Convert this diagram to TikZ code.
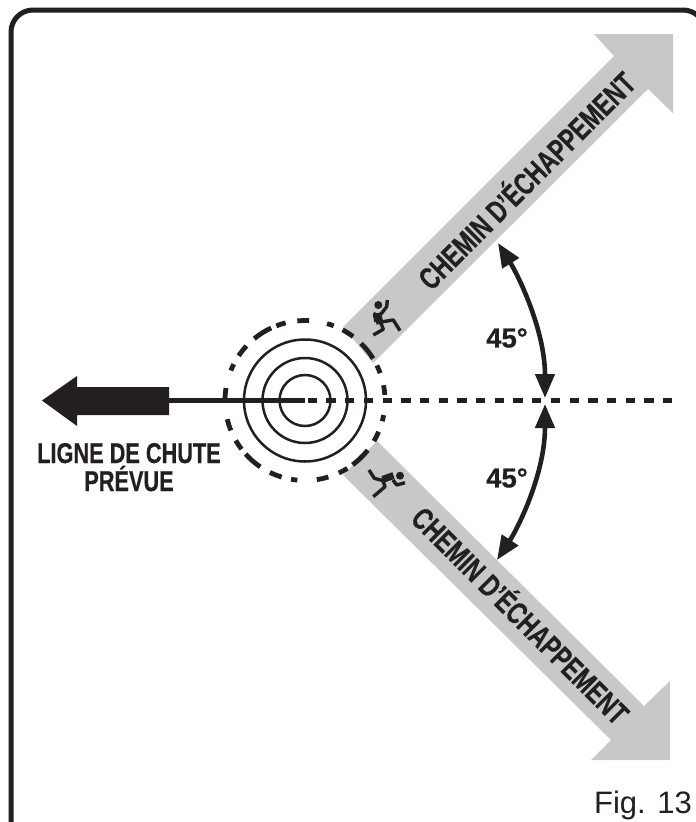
\documentclass[tikz,border=0pt]{standalone}
\usepackage{fontspec}
\setmainfont{Liberation Sans}
\newfontfamily\heavy{Liberation Sans}[BoldFeatures={FakeBold=0.6}]
\usetikzlibrary{arrows.meta}
\definecolor{ink}{HTML}{231F20}
\definecolor{path}{HTML}{C7C8CA}
\tikzset{
  frameline/.style={draw=ink,line width=5pt,rounded corners=22pt},
  escapepath/.style={fill=path,draw=none},
  ring/.style={draw=ink,line width=2.5pt},
  ringdash/.style={draw=ink,line width=4.8pt},
  axisdash/.style={draw=ink,line width=4.6pt,dash pattern=on 9.35pt off 9.35pt},
  axissolid/.style={draw=ink,line width=4.6pt},
  anglearrow/.style={draw=ink,line width=4.6pt,{Triangle[length=24pt,width=19pt]}-{Triangle[length=24pt,width=19pt]}},
  pathlabel/.style={text=ink,inner sep=0pt},
  anglelabel/.style={text=ink,inner sep=0pt,font=\fontsize{27.5}{27.5}\selectfont\heavy\bfseries},
  runner/.style={draw=ink,line width=3.4pt,line join=round},
  runnerbody/.style={draw=ink,line width=7pt},
}
\begin{document}
\begin{tikzpicture}[x=1pt,y=-1pt]
\useasboundingbox (0,0) rectangle (696,822);
\clip (0,0) rectangle (696,822);
\fill[white] (0,0) rectangle (696,822);
\draw[frameline] (11,10) rectangle (705,850);
% grey arrows
\fill[escapepath] (343,327) -- (614,56) -- (594,34) -- (673,34) -- (673,113) -- (648,89) -- (373,363) -- cycle;
\fill[escapepath] (377,441) -- (644,706) -- (670,681) -- (670,760) -- (591,760) -- (611,740) -- (343,475) -- cycle;
% centre
\coordinate (c) at (305,400.5);
\coordinate (solidend) at (169,400.5);
\coordinate (dashstart) at (307.7,400.5);
\coordinate (dashend) at (672.7,400.5);
\draw[axissolid] (solidend) -- (c);
\draw[axisdash] (dashstart) -- (dashend);
\foreach \r in {25.5,42.5,61} \draw[ring] (c) circle[radius=\r];
\begin{scope}[shift={(305,400.5)},y=1pt]
\foreach \a/\b in {4/11,20/26,31.6/45.5,53/62,69/74,87/95.5,104/111,115/129.4,137/146,153/158,171/180,193.5/202,210/217.5,222/236,244/253,260/264.5,278.5/287,295/302,306.5/321.6,329.5/337,345/349.5}
  \draw[ringdash] (\a:80) arc[start angle=\a,end angle=\b,radius=80];
\end{scope}
% black arrow
\fill[ink] (42,400.5) -- (77,376) -- (77,387) -- (169,387) -- (169,415) -- (77,415) -- (77,426) -- cycle;
% angle arrows
\coordinate (upTip) at (498,243);
\coordinate (midUp) at (545,398);
\coordinate (midLo) at (545,404);
\coordinate (loTip) at (497,560);
\draw[anglearrow] (upTip) .. controls (518,275) and (545,330) .. (midUp);
\draw[anglearrow] (loTip) .. controls (518,528) and (545,474) .. (midLo);
\node[anglelabel] (a1) at (507,338) {45°};
\node[anglelabel] (a2) at (507,478) {45°};
% labels
\node[pathlabel,rotate=45] (p1) at (525,179) {\scalebox{.73}[1]{\fontsize{31}{31}\selectfont\heavy\bfseries CHEMIN D’ÉCHAPPEMENT}};
\node[pathlabel,rotate=-45] (p2) at (522,614) {\scalebox{.73}[1]{\fontsize{31}{31}\selectfont\heavy\bfseries CHEMIN D’ÉCHAPPEMENT}};
\node[text=ink,inner sep=0pt,anchor=base] (l1) at (129,463) {\scalebox{.76}[1]{\fontsize{28.6}{28.6}\selectfont\heavy\bfseries LIGNE DE CHUTE}};
\node[text=ink,inner sep=0pt,anchor=base] (l2) at (129,491) {\scalebox{.76}[1]{\fontsize{28.6}{28.6}\selectfont\heavy\bfseries PRÉVUE}};
\node[text=ink,inner sep=0pt,anchor=base east] (fig) at (692,813) {\fontsize{31}{31}\selectfont Fig. 13};
% runner 1
\fill[ink] (378.3,305) circle[radius=4];
\draw[runnerbody] (377.7,313) -- (380,324);
\draw[runner] (376,313) -- (374.5,314.5) -- (376,322);
\draw[runner] (381,314) -- (386.7,306.7) -- (387.3,300);
\draw[runner] (381,322) -- (393.3,320) -- (400,330.7);
\draw[runner] (381,323.3) -- (383.3,329.3) -- (373.3,335);
% runner 2
\fill[ink] (400,475.7) circle[radius=4];
\draw[runnerbody] (393.5,475.5) -- (382.5,479.5);
\draw[runner] (369,470) -- (374.3,478.3) -- (383.3,480.7);
\draw[runner] (393,480) -- (396.7,485) -- (405,482.7);
\draw[runner] (383.3,481.7) -- (385,486.7) -- (373.3,496.7);
\end{tikzpicture}
\end{document}
